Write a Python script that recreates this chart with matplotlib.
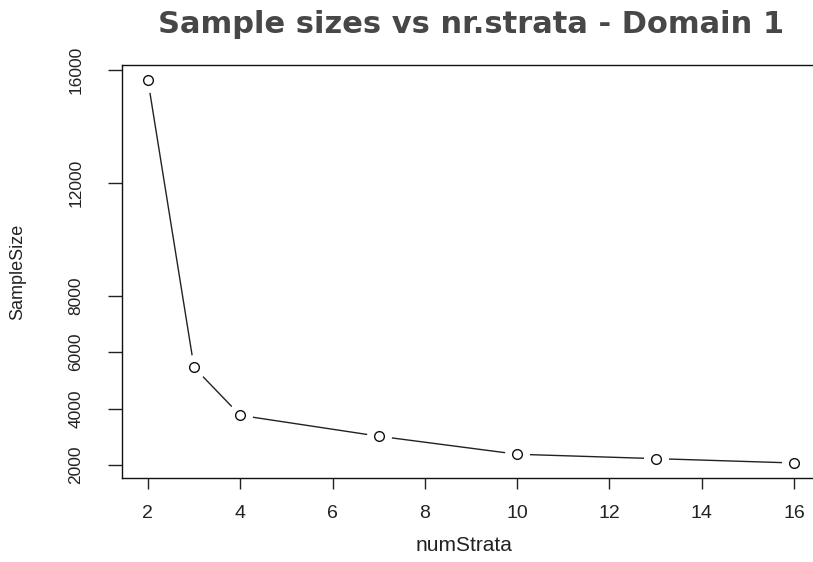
import matplotlib as mpl
import matplotlib.pyplot as plt

mpl.rcParams['font.family'] = ['Liberation Sans', 'DejaVu Sans']

num_strata = [2, 3, 4, 7, 10, 13, 16]
sample_size = [15645, 5460, 3760, 3020, 2380, 2225, 2070]
y_ticks = [2000, 4000, 6000, 8000, 12000, 16000]
x_ticks = [2, 4, 6, 8, 10, 12, 14, 16]

fig = plt.figure(figsize=(8.13, 5.62), dpi=100)
ax = fig.add_axes([0.1501, 0.1489, 0.8585, 0.736])

# R type="b": line with gaps around the points
ax.plot(num_strata, sample_size, '-', color='#222222', lw=1.0, zorder=1)
ax.plot(num_strata, sample_size, 'o', ms=18, mfc='white', mec='none', zorder=2)
ax.plot(num_strata, sample_size, 'o', ms=7, mfc='white', mec='#111111', mew=1.0, zorder=3)

xr = max(num_strata) - min(num_strata)
yr = max(sample_size) - min(sample_size)
ax.set_xlim(min(num_strata) - 0.04 * xr, max(num_strata) + 0.04 * xr)
ax.set_ylim(min(sample_size) - 0.04 * yr, max(sample_size) + 0.04 * yr)

ax.set_xticks(x_ticks)
ax.set_yticks(y_ticks)
ax.set_yticklabels([str(v) for v in y_ticks], rotation=90, va='center')
ax.tick_params(axis='x', length=8, width=1, pad=11, labelsize=14, colors='#222222')
ax.tick_params(axis='y', length=10, width=1, pad=18, labelsize=12.5, colors='#222222')

for s in ax.spines.values():
    s.set_linewidth(1.0)
    s.set_color('#111111')
ax.spines['right'].set_visible(False)  # falls just outside the image in the original

ax.set_xlabel('numStrata', fontsize=15, color='#222222')
ax.xaxis.set_label_coords(0.49, -0.163)
ax.xaxis.label.set_va('center')
ax.set_ylabel('SampleSize', fontsize=13, color='#222222')
ax.yaxis.set_label_coords(-0.149, 0.5)
ax.yaxis.label.set_va('center')

fig.text(0.58, 0.956, 'Sample sizes vs nr.strata - Domain 1', ha='center', va='center',
         fontsize=22, fontweight='bold', color='#474747', family='DejaVu Sans')

plt.savefig('out.png', dpi=100)
